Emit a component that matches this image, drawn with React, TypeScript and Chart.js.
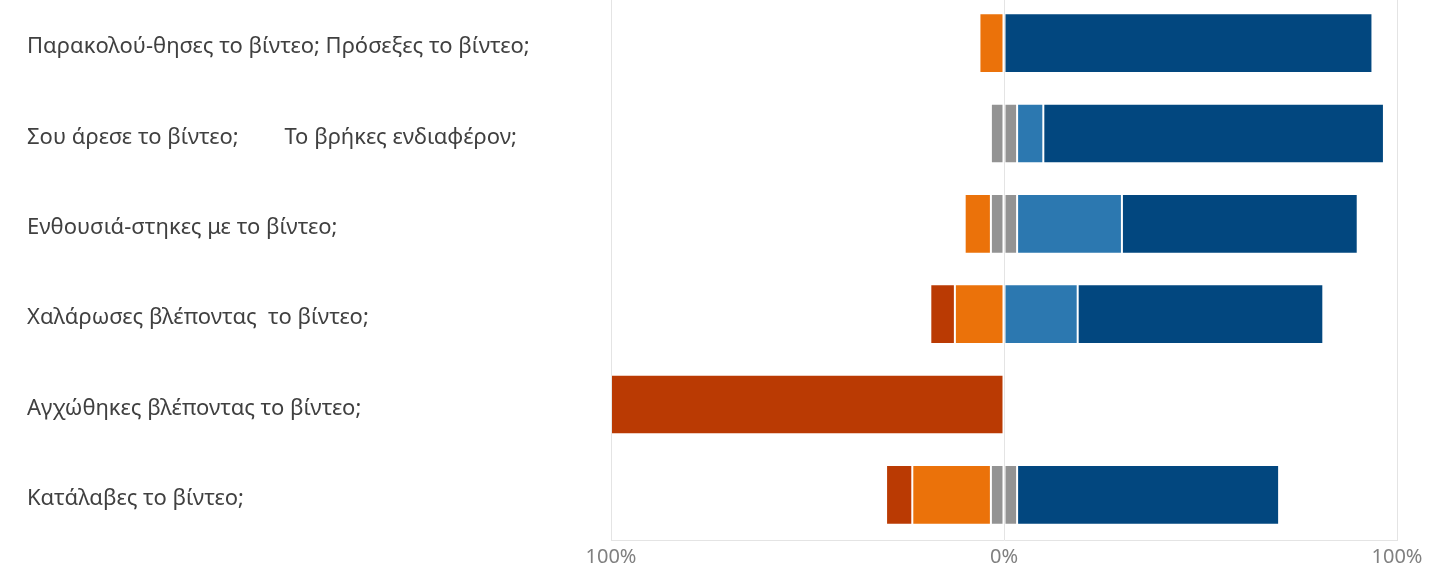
import React, { useEffect, useRef } from "react";
import { Chart, registerables } from "chart.js";

Chart.register(...registerables);

const categories = [
  "Παρακολού-θησες το βίντεο; Πρόσεξες το βίντεο;",
  "Σου άρεσε το βίντεο;        Το βρήκες ενδιαφέρον;",
  "Ενθουσιά-στηκες με το βίντεο;",
  "Χαλάρωσες βλέποντας  το βίντεο;",
  "Αγχώθηκες βλέποντας το βίντεο;",
  "Κατάλαβες το βίντεο;",
];

// percentages per answer level
const stronglyDisagree = [0, 0, 0, 6.25, 100, 6.67];
const disagree = [6.25, 0, 6.67, 12.5, 0, 20];
const neutral = [0, 6.67, 6.67, 0, 0, 6.67];
const agree = [0, 6.67, 26.67, 18.75, 0, 0];
const stronglyAgree = [93.75, 86.67, 60, 62.5, 0, 66.67];

const tickValues = [-100, 0, 100];

const COLORS = {
  stronglyDisagree: "#BA3A03",
  disagree: "#EB720A",
  neutral: "#939393",
  agree: "#2C78B0",
  stronglyAgree: "#02477F",
};

const nz = (v: number) => (v === 0 ? null : v);

export default function App() {
  const ref = useRef<HTMLCanvasElement | null>(null);

  useEffect(() => {
    if (!ref.current) return;
    const font = "'Noto Sans', sans-serif";
    const mk = (label: string, data: (number | null)[], color: string) => ({
      label,
      data,
      backgroundColor: color,
      borderColor: "rgba(255,255,255,0.14)",
      borderWidth: 1,
      borderSkipped: false as const,
      barPercentage: 0.66,
      categoryPercentage: 1,
      stack: "s",
    });
    const chart = new Chart(ref.current, {
      type: "bar",
      data: {
        labels: categories,
        datasets: [
          mk("Ουδέτερο", neutral.map((v) => nz(-v / 2)), COLORS.neutral),
          mk("Διαφωνώ", disagree.map((v) => nz(-v)), COLORS.disagree),
          mk("Διαφωνώ απόλυτα", stronglyDisagree.map((v) => nz(-v)), COLORS.stronglyDisagree),
          mk("Ουδέτερο ", neutral.map((v) => nz(v / 2)), COLORS.neutral),
          mk("Συμφωνώ", agree.map((v) => nz(v)), COLORS.agree),
          mk("Συμφωνώ απόλυτα", stronglyAgree.map((v) => nz(v)), COLORS.stronglyAgree),
        ],
      },
      options: {
        indexAxis: "y",
        animation: false,
        responsive: false,
        maintainAspectRatio: false,
        layout: { padding: { left: 27, right: 48, top: 0, bottom: 0 } },
        plugins: { legend: { display: false }, tooltip: { enabled: false } },
        scales: {
          x: {
            stacked: true,
            min: -100,
            max: 100,
            afterBuildTicks: (scale: any) => {
              scale.ticks = tickValues.map((v) => ({ value: v }));
            },
            afterFit: (scale: any) => {
              scale.height = 39;
            },
            grid: { color: "#E4E4E4", drawTicks: false, lineWidth: 1 },
            border: { color: "#E4E4E4" },
            ticks: {
              padding: 5,
              color: "#808080",
              font: { family: font, size: 20 },
              callback: (v: any) => Math.abs(Number(v)) + "%",
            },
          },
          y: {
            stacked: true,
            afterFit: (scale: any) => {
              scale.width = 584;
              scale.paddingTop = 0;
              scale.paddingBottom = 0;
            },
            grid: { display: false, drawTicks: false },
            border: { display: false },
            ticks: {
              crossAlign: "far",
              labelOffset: 4,
              color: "#404040",
              font: { family: font, size: 22 },
            },
          },
        },
      },
    } as any);
    return () => chart.destroy();
  }, []);

  return (
    <div style={{ position: "fixed", left: 0, top: -2, width: 1445, height: 581, background: "#fff" }}>
      <canvas ref={ref} width={1445} height={581} style={{ width: 1445, height: 581 }} />
    </div>
  );
}
